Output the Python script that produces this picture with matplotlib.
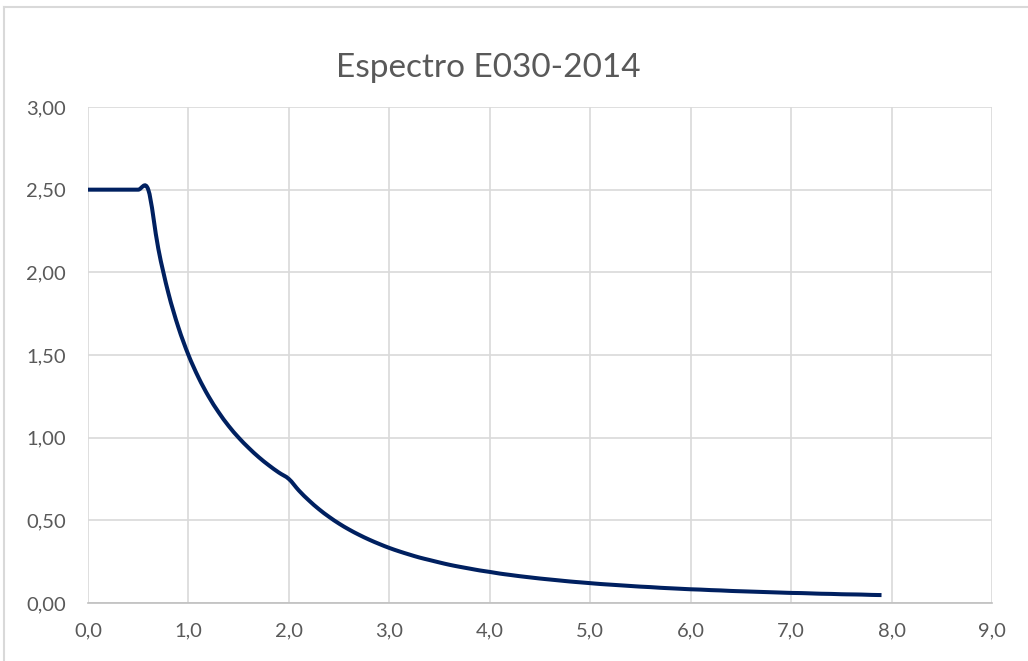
import matplotlib
matplotlib.use("Agg")
import matplotlib.pyplot as plt
from matplotlib.path import Path
from matplotlib.patches import PathPatch
from matplotlib.lines import Line2D
import numpy as np

# Spectrum ordinates (period T in s, amplification C)
periods = [0.0, 0.1, 0.2, 0.3, 0.4, 0.5, 0.6, 0.7, 0.8, 0.9,
           1.0, 1.1, 1.2, 1.3, 1.4, 1.5, 1.6, 1.7, 1.8, 1.9,
           2.0, 2.1, 2.2, 2.3, 2.4, 2.5, 2.6, 2.7, 2.8, 2.9,
           3.0, 3.1, 3.2, 3.3, 3.4, 3.5, 3.6, 3.7, 3.8, 3.9,
           4.0, 4.1, 4.2, 4.3, 4.4, 4.5, 4.6, 4.7, 4.8, 4.9,
           5.0, 5.1, 5.2, 5.3, 5.4, 5.5, 5.6, 5.7, 5.8, 5.9,
           6.0, 6.1, 6.2, 6.3, 6.4, 6.5, 6.6, 6.7, 6.8, 6.9,
           7.0, 7.1, 7.2, 7.3, 7.4, 7.5, 7.6, 7.7, 7.8, 7.9]
c_values = [2.500, 2.500, 2.500, 2.500, 2.500, 2.500, 2.500, 2.143, 1.875, 1.667,
            1.500, 1.364, 1.250, 1.154, 1.071, 1.000, 0.938, 0.882, 0.833, 0.789,
            0.750, 0.680, 0.620, 0.567, 0.521, 0.480, 0.444, 0.412, 0.383, 0.357,
            0.333, 0.312, 0.293, 0.275, 0.260, 0.245, 0.231, 0.219, 0.208, 0.197,
            0.188, 0.178, 0.170, 0.162, 0.155, 0.148, 0.142, 0.136, 0.130, 0.125,
            0.120, 0.115, 0.111, 0.107, 0.103, 0.099, 0.096, 0.092, 0.089, 0.086,
            0.083, 0.081, 0.078, 0.076, 0.073, 0.071, 0.069, 0.067, 0.065, 0.063,
            0.061, 0.060, 0.058, 0.056, 0.055, 0.053, 0.052, 0.051, 0.049, 0.048]

x_ticks = [0, 1, 2, 3, 4, 5, 6, 7, 8, 9]
y_ticks = [0.0, 0.5, 1.0, 1.5, 2.0, 2.5, 3.0]
x_labels = ["0,0", "1,0", "2,0", "3,0", "4,0", "5,0", "6,0", "7,0", "8,0", "9,0"]
y_labels = ["0,00", "0,50", "1,00", "1,50", "2,00", "2,50", "3,00"]
title = "Espectro E030-2014"

FONT = "Lato"
TEXT_COLOR = "#595959"
GRID_COLOR = "#d9d9d9"
LINE_COLOR = "#002060"

W, H = 1028, 661
fig = plt.figure(figsize=(W / 100, H / 100), dpi=100)
fig.patch.set_facecolor("white")

# chart-area border (left and top edges visible)
fig.add_artist(Line2D([3.5 / W, 3.5 / W], [0, 1 - 7 / H], transform=fig.transFigure,
                      color=GRID_COLOR, lw=1.5))
fig.add_artist(Line2D([3.5 / W, 1], [1 - 7 / H, 1 - 7 / H], transform=fig.transFigure,
                      color=GRID_COLOR, lw=1.5))

ax = fig.add_axes([88 / W, 58 / H, (992 - 88) / W, (603 - 107) / H])
ax.set_xlim(0, 9)
ax.set_ylim(0, 3)

# smoothed line: cubic Bezier segments through the points (Catmull-Rom style)
x = np.asarray(periods, float)
y = np.asarray(c_values, float)
pts = np.column_stack([x, y])
n = len(pts)
verts = [pts[0]]
codes = [Path.MOVETO]
for i in range(n - 1):
    p0 = pts[i - 1] if i > 0 else pts[i]
    p1 = pts[i]
    p2 = pts[i + 1]
    p3 = pts[i + 2] if i + 2 < n else pts[i + 1]
    c1 = p1 + (p2 - p0) / 6.0
    c2 = p2 - (p3 - p1) / 6.0
    verts += [c1, c2, p2]
    codes += [Path.CURVE4] * 3
ax.add_patch(PathPatch(Path(verts, codes), facecolor="none", edgecolor=LINE_COLOR,
                       lw=2.9, capstyle="butt", joinstyle="round", zorder=3))

ax.set_xticks(x_ticks)
ax.set_yticks(y_ticks)
ax.set_xticklabels(x_labels)
ax.set_yticklabels(y_labels)
ax.grid(True, color=GRID_COLOR, lw=1.2)
ax.set_axisbelow(True)
for side in ["top", "right", "left"]:
    ax.spines[side].set_visible(False)
ax.spines["bottom"].set_color("#bfbfbf")
ax.spines["bottom"].set_linewidth(1.2)
ax.tick_params(length=0, labelsize=14.5, labelcolor=TEXT_COLOR)
ax.tick_params(axis="x", pad=14)
ax.tick_params(axis="y", pad=16)
for lab in ax.get_xticklabels() + ax.get_yticklabels():
    lab.set_fontfamily(FONT)

fig.text(488 / W, 1 - 68 / H, title, ha="center", va="center",
         fontsize=24, color=TEXT_COLOR, fontfamily=FONT)

fig.savefig("out.png", dpi=100, facecolor="white")
